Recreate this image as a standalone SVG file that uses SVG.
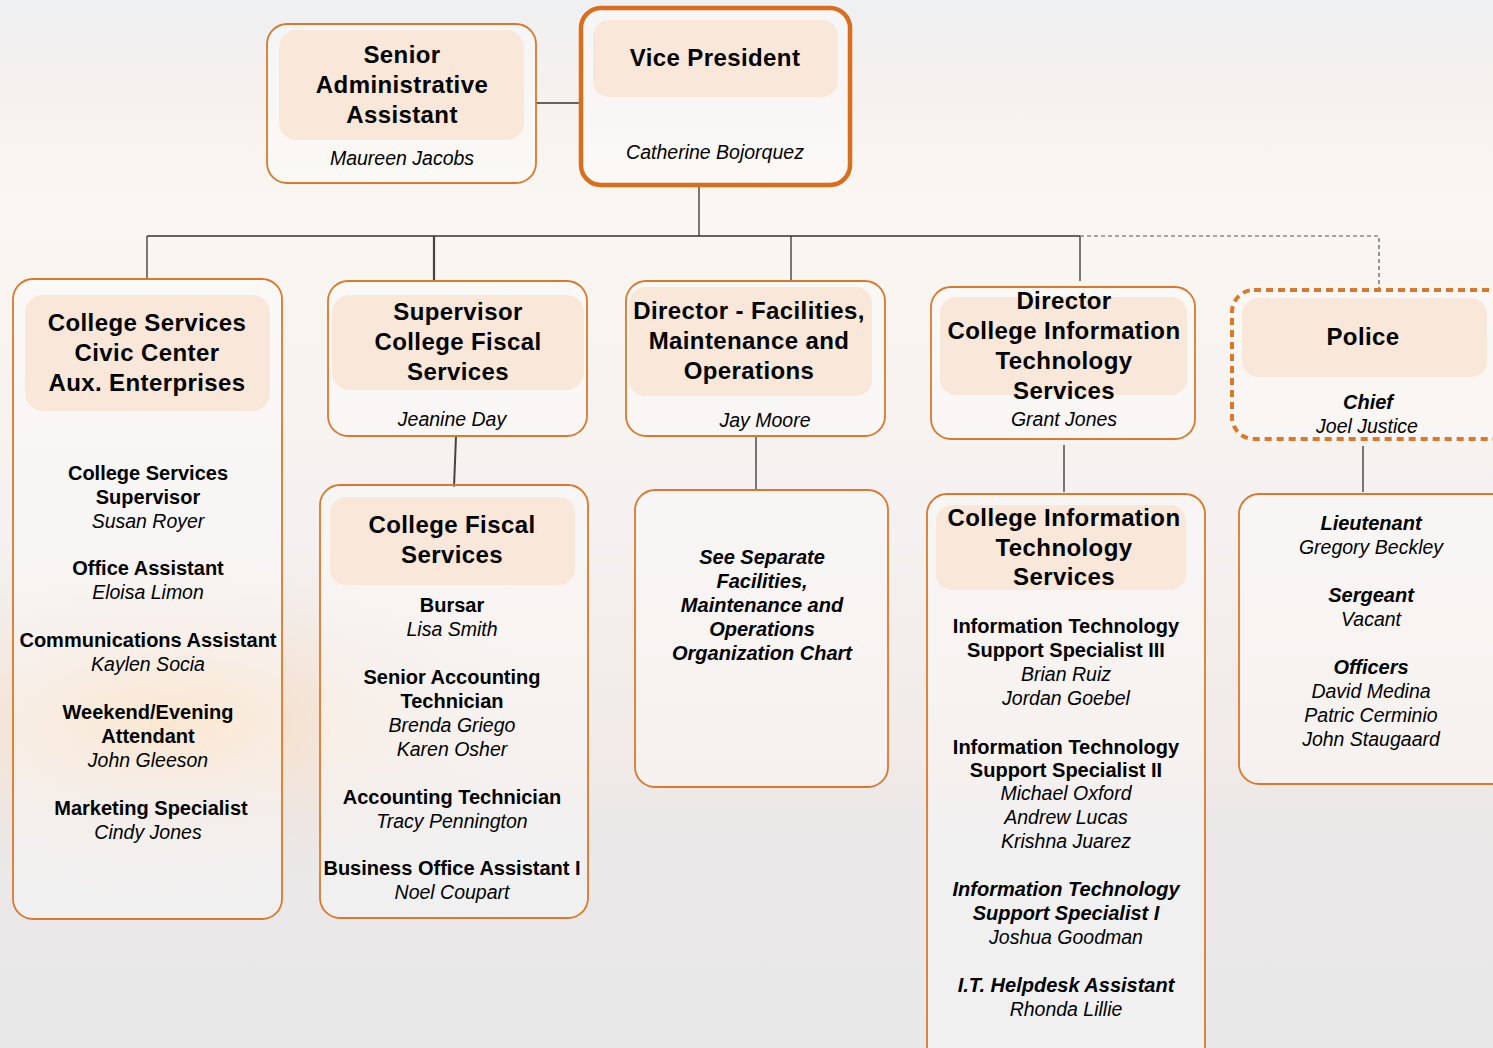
<svg xmlns="http://www.w3.org/2000/svg" width="1493" height="1048" viewBox="0 0 1493 1048">
<defs>
<linearGradient id="bg" x1="0" y1="0" x2="0" y2="1">
<stop offset="0" stop-color="#eff0f2"/>
<stop offset="0.08" stop-color="#f5f1ef"/>
<stop offset="0.2" stop-color="#faf6f1"/>
<stop offset="0.5" stop-color="#f4f1f0"/>
<stop offset="0.72" stop-color="#f2ebe7"/>
<stop offset="0.78" stop-color="#ebe8e8"/>
<stop offset="1" stop-color="#e9e8e8"/>
</linearGradient>
<radialGradient id="glow" cx="170" cy="720" r="380" gradientUnits="userSpaceOnUse" gradientTransform="translate(0,720) scale(1,0.45) translate(0,-720)">
<stop offset="0" stop-color="#fbd9b0" stop-opacity="0.9"/>
<stop offset="0.45" stop-color="#f6dcc6" stop-opacity="0.4"/>
<stop offset="1" stop-color="#f3e6de" stop-opacity="0"/>
</radialGradient>
</defs>
<style>
.box{fill:#ffffff;fill-opacity:0.35;stroke:#dc782c;stroke-width:1.8}
.hdr{fill:#f9e7d9;stroke:none}
.t{font-family:"Liberation Sans",Arial,sans-serif;font-size:24px;font-weight:bold;text-anchor:middle;fill:#000;letter-spacing:0.4px}
.b{font-family:"Liberation Sans",Arial,sans-serif;font-size:20px;font-weight:bold;text-anchor:middle;fill:#000}
.i{font-family:"Liberation Sans",Arial,sans-serif;font-size:19.5px;font-style:italic;text-anchor:middle;fill:#000}
.bi{font-family:"Liberation Sans",Arial,sans-serif;font-size:20px;font-weight:bold;font-style:italic;text-anchor:middle;fill:#000}
.ln{stroke:#333;stroke-width:1.3;fill:none}
</style>
<rect width="1493" height="1048" fill="url(#bg)"/>
<rect width="1493" height="1048" fill="url(#glow)"/>

<g id="connectors">
<line class="ln" x1="536" y1="103" x2="581" y2="103"/>
<line class="ln" x1="699" y1="185" x2="699" y2="236"/>
<line class="ln" x1="147" y1="236" x2="1080" y2="236"/>
<line class="ln" x1="147" y1="236" x2="147" y2="279"/>
<path d="M434,236 V281 H446" stroke="#444" stroke-width="2.2" fill="none"/>
<line class="ln" x1="791" y1="236" x2="791" y2="281"/>
<line class="ln" x1="1080" y1="236" x2="1080" y2="281"/>
<path d="M1080,236 H1379 V290" stroke="#555" stroke-width="1.2" stroke-dasharray="4 3" fill="none"/>
<line x1="456" y1="436" x2="454" y2="487" stroke="#444" stroke-width="2"/>
<line class="ln" x1="756" y1="436" x2="756" y2="490"/>
<line class="ln" x1="1064" y1="445" x2="1064" y2="492"/>
<line class="ln" x1="1363" y1="446" x2="1363" y2="492"/>
</g>

<g id="senior-admin">
<rect class="box" x="267" y="24" width="269" height="159" rx="20"/>
<rect class="hdr" x="279" y="30" width="245" height="110" rx="18"/>
<text class="t" x="402" y="63">Senior</text>
<text class="t" x="402" y="93">Administrative</text>
<text class="t" x="402" y="123">Assistant</text>
<text class="i" x="402" y="165">Maureen Jacobs</text>
</g>

<g id="vice-president">
<rect x="581" y="8" width="269" height="177" rx="20" fill="#ffffff" fill-opacity="0.4" stroke="#d86e1e" stroke-width="4.5"/>
<rect class="hdr" x="593" y="20" width="245" height="77" rx="16"/>
<text class="t" x="715" y="66">Vice President</text>
<text class="i" x="715" y="159">Catherine Bojorquez</text>
</g>

<g id="college-services">
<rect class="box" x="13" y="279" width="269" height="640" rx="20"/>
<rect class="hdr" x="25" y="295" width="245" height="116" rx="18"/>
<text class="t" x="147" y="331">College Services</text>
<text class="t" x="147" y="361">Civic Center</text>
<text class="t" x="147" y="391">Aux. Enterprises</text>
<text class="b" x="148" y="480">College Services</text>
<text class="b" x="148" y="504">Supervisor</text>
<text class="i" x="148" y="528">Susan Royer</text>
<text class="b" x="148" y="575">Office Assistant</text>
<text class="i" x="148" y="599">Eloisa Limon</text>
<text class="b" x="148" y="647">Communications Assistant</text>
<text class="i" x="148" y="671">Kaylen Socia</text>
<text class="b" x="148" y="719">Weekend/Evening</text>
<text class="b" x="148" y="743">Attendant</text>
<text class="i" x="148" y="767">John Gleeson</text>
<text class="b" x="151" y="815">Marketing Specialist</text>
<text class="i" x="148" y="839">Cindy Jones</text>
</g>

<g id="supervisor-fiscal">
<rect class="box" x="328" y="281" width="259" height="155" rx="20"/>
<rect class="hdr" x="332" y="295" width="252" height="95" rx="18"/>
<text class="t" x="458" y="320">Supervisor</text>
<text class="t" x="458" y="350">College Fiscal</text>
<text class="t" x="458" y="380">Services</text>
<text class="i" x="452" y="426">Jeanine Day</text>
</g>

<g id="college-fiscal">
<rect class="box" x="320" y="485" width="268" height="433" rx="20"/>
<rect class="hdr" x="330" y="497" width="245" height="88" rx="16"/>
<text class="t" x="452" y="533">College Fiscal</text>
<text class="t" x="452" y="563">Services</text>
<text class="b" x="452" y="612">Bursar</text>
<text class="i" x="452" y="636">Lisa Smith</text>
<text class="b" x="452" y="684">Senior Accounting</text>
<text class="b" x="452" y="708">Technician</text>
<text class="i" x="452" y="732">Brenda Griego</text>
<text class="i" x="452" y="756">Karen Osher</text>
<text class="b" x="452" y="804">Accounting Technician</text>
<text class="i" x="452" y="828">Tracy Pennington</text>
<text class="b" x="452" y="875">Business Office Assistant I</text>
<text class="i" x="452" y="899">Noel Coupart</text>
</g>

<g id="director-facilities">
<rect class="box" x="626" y="281" width="259" height="155" rx="20"/>
<rect class="hdr" x="629" y="287" width="243" height="109" rx="16"/>
<text class="t" x="749" y="319">Director - Facilities,</text>
<text class="t" x="749" y="349">Maintenance and</text>
<text class="t" x="749" y="379">Operations</text>
<text class="i" x="765" y="427">Jay Moore</text>
</g>

<g id="see-separate">
<rect class="box" x="635" y="490" width="253" height="297" rx="20"/>
<text class="bi" x="762" y="564">See Separate</text>
<text class="bi" x="762" y="588">Facilities,</text>
<text class="bi" x="762" y="612">Maintenance and</text>
<text class="bi" x="762" y="636">Operations</text>
<text class="bi" x="762" y="660">Organization Chart</text>
</g>

<g id="director-cits">
<rect class="box" x="931" y="287" width="264" height="152" rx="20"/>
<rect class="hdr" x="940" y="297" width="247" height="98" rx="16"/>
<text class="t" x="1064" y="309">Director</text>
<text class="t" x="1064" y="339">College Information</text>
<text class="t" x="1064" y="369">Technology</text>
<text class="t" x="1064" y="399">Services</text>
<text class="i" x="1064" y="426">Grant Jones</text>
</g>

<g id="cits">
<rect class="box" x="927" y="494" width="278" height="580" rx="20"/>
<rect class="hdr" x="936" y="505" width="250" height="85" rx="16"/>
<text class="t" x="1064" y="526">College Information</text>
<text class="t" x="1064" y="556">Technology</text>
<text class="t" x="1064" y="585">Services</text>
<text class="b" x="1066" y="633">Information Technology</text>
<text class="b" x="1066" y="657">Support Specialist III</text>
<text class="i" x="1066" y="681">Brian Ruiz</text>
<text class="i" x="1066" y="705">Jordan Goebel</text>
<text class="b" x="1066" y="754">Information Technology</text>
<text class="b" x="1066" y="777">Support Specialist II</text>
<text class="i" x="1066" y="800">Michael Oxford</text>
<text class="i" x="1066" y="824">Andrew Lucas</text>
<text class="i" x="1066" y="848">Krishna Juarez</text>
<text class="bi" x="1066" y="896">Information Technology</text>
<text class="bi" x="1066" y="920">Support Specialist I</text>
<text class="i" x="1066" y="944">Joshua Goodman</text>
<text class="bi" x="1066" y="992">I.T. Helpdesk Assistant</text>
<text class="i" x="1066" y="1016">Rhonda Lillie</text>
</g>

<g id="police">
<rect x="1232" y="290" width="290" height="149" rx="22" fill="#ffffff" fill-opacity="0.3" stroke="#dc782c" stroke-width="4" stroke-dasharray="7 5"/>
<rect class="hdr" x="1242" y="298" width="245" height="79" rx="16"/>
<text class="t" x="1363" y="345">Police</text>
<text class="bi" x="1368" y="409">Chief</text>
<text class="i" x="1367" y="433">Joel Justice</text>
</g>

<g id="police-staff">
<rect class="box" x="1239" y="494" width="280" height="290" rx="20"/>
<text class="bi" x="1371" y="530">Lieutenant</text>
<text class="i" x="1371" y="554">Gregory Beckley</text>
<text class="bi" x="1371" y="602">Sergeant</text>
<text class="i" x="1371" y="626">Vacant</text>
<text class="bi" x="1371" y="674">Officers</text>
<text class="i" x="1371" y="698">David Medina</text>
<text class="i" x="1371" y="722">Patric Cerminio</text>
<text class="i" x="1371" y="746">John Staugaard</text>
</g>
</svg>
